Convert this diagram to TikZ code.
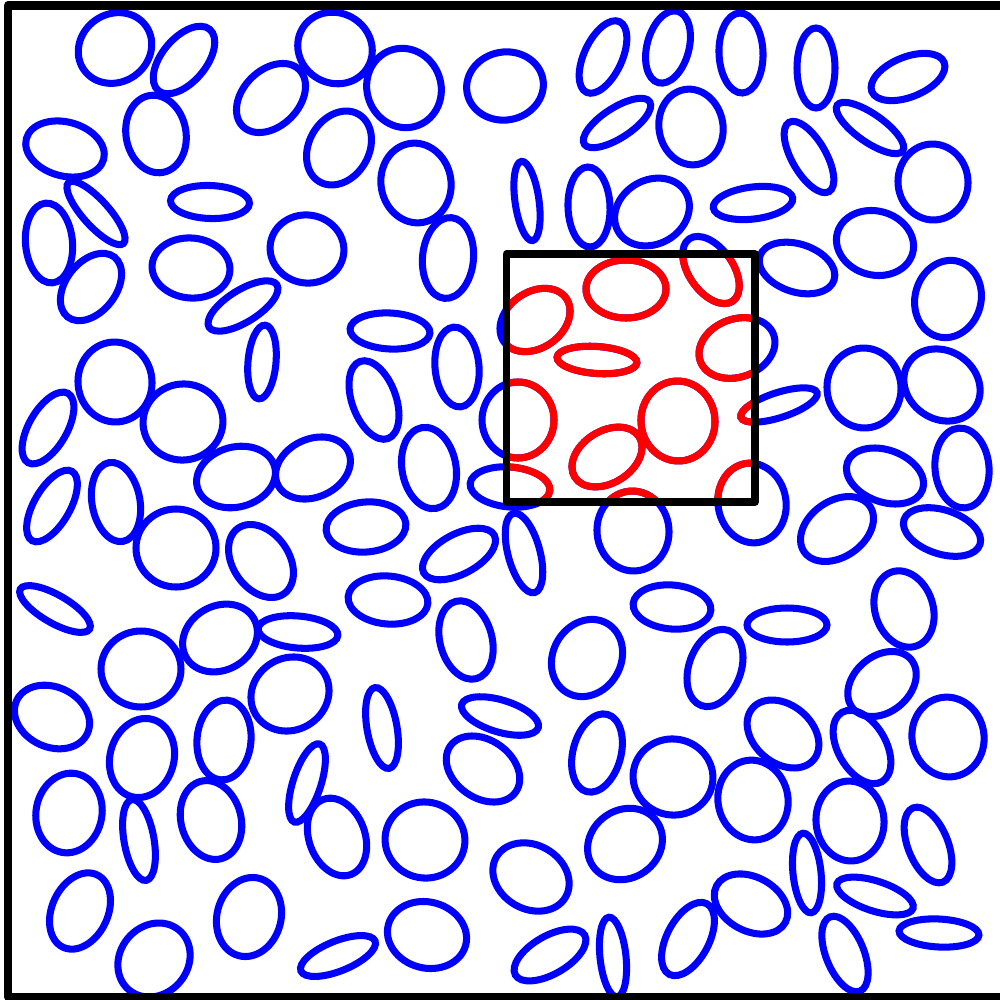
\documentclass[tikz,border=0pt]{standalone}
\usepackage{tikz}
\definecolor{eblue}{RGB}{0,0,255}
\definecolor{ered}{RGB}{255,0,0}
\newcommand\elp[5]{\draw[rotate around={#5:(#1,#2)}] (#1,#2) ellipse [x radius=#3, y radius=#4];}
\newcommand\allellipses{%
\elp{115}{48}{38}{34}{35}
\elp{184}{60}{40}{22}{50}
\elp{156}{134}{39}{30}{100}
\elp{65}{149}{40}{27}{-15}
\elp{96}{213}{41}{13}{-48}
\elp{49}{243}{40}{23.5}{95}
\elp{91}{287}{38}{25}{52}
\elp{210}{202}{39.5}{16.5}{-2}
\elp{191}{268}{39}{30}{-5}
\elp{307}{249}{37}{34}{-10}
\elp{243}{306}{40}{16}{32}
\elp{262}{362}{37}{14}{85}
\elp{271}{98}{40}{28}{45}
\elp{335}{48}{38}{35}{-30}
\elp{404}{88}{40}{37}{-70}
\elp{339}{148}{39}{30}{60}
\elp{416}{183}{40}{35}{100}
\elp{448}{258}{40.5}{25.5}{85}
\elp{505}{86}{38.5}{34}{10}
\elp{603}{57}{39}{19}{65}
\elp{617}{123}{39}{15}{33}
\elp{668}{47}{37}{21}{75}
\elp{691}{127}{38}{32}{100}
\elp{741}{53}{40}{22}{92}
\elp{816}{68}{40}{19}{90}
\elp{908}{77}{39}{20}{22}
\elp{870}{128}{40}{14}{-35}
\elp{809}{157}{40}{17}{-60}
\elp{933}{182}{38}{35}{95}
\elp{753}{203}{40}{16}{7}
\elp{875}{243}{39}{32}{-15}
\elp{948}{299}{39}{33}{75}
\elp{797}{268}{39}{24}{-18}
\elp{711}{270}{38}{22}{-55}
\elp{626}{289}{40}{29}{0}
\elp{535}{320}{38}{28}{35}
\elp{597}{360}{40}{13.5}{-4}
\elp{737}{348}{39}{29}{20}
\elp{518}{420}{38}{36}{90}
\elp{678}{421}{40}{37}{95}
\elp{607}{457}{38}{26}{32}
\elp{510}{487}{40}{20}{-5}
\elp{633}{531}{40}{36}{95}
\elp{752}{503}{40}{34}{100}
\elp{779}{405}{40}{12.5}{18}
\elp{864}{388}{40}{37}{95}
\elp{942}{385}{40}{34}{-35}
\elp{962}{468}{40}{27}{95}
\elp{885}{476}{40}{26}{-20}
\elp{837}{529}{40}{28}{35}
\elp{942}{532}{40}{22}{-18}
\elp{787}{625}{40}{17}{0}
\elp{904}{609}{39}{29}{-72}
\elp{672}{607}{39}{22}{-5}
\elp{715}{668}{40}{26}{70}
\elp{882}{684}{38}{28}{40}
\elp{948}{737}{40}{36}{100}
\elp{783}{734}{40}{29}{-40}
\elp{862}{747}{40}{24}{-60}
\elp{673}{777}{40}{38}{-10}
\elp{753}{800}{40}{35}{100}
\elp{850}{821}{40}{34}{95}
\elp{928}{845}{40}{20}{-68}
\elp{807}{873}{40}{14}{96}
\elp{875}{896}{40}{15}{-18}
\elp{939}{933}{40}{14}{-3}
\elp{751}{904}{39}{27}{-28}
\elp{688}{939}{40}{21}{62}
\elp{845}{954}{40}{19}{-68}
\elp{613}{957}{40}{13}{96}
\elp{550}{955}{40}{19}{30}
\elp{531}{877}{40}{32}{-30}
\elp{625}{844}{39}{34}{35}
\elp{597}{753}{40}{24}{75}
\elp{587}{658}{40}{34}{60}
\elp{483}{769}{40}{29}{-35}
\elp{500}{716}{40}{16}{-17}
\elp{382}{728}{41}{15}{100}
\elp{425}{840}{40}{38}{-10}
\elp{337}{837}{40}{28}{110}
\elp{307}{783}{41}{14}{72}
\elp{427}{935}{40}{33}{-15}
\elp{338}{956}{40}{15}{22}
\elp{249}{917}{40}{32}{75}
\elp{154}{960}{39}{34}{50}
\elp{80}{911}{40}{28}{65}
\elp{69}{813}{40}{33}{80}
\elp{139}{840}{41}{15}{100}
\elp{211}{820}{40}{30}{105}
\elp{142}{758}{40}{32}{75}
\elp{224}{740}{40}{27}{85}
\elp{52}{717}{39}{30}{-25}
\elp{141}{669}{40}{38}{0}
\elp{220}{638}{39}{32}{30}
\elp{298}{632}{40}{16}{-5}
\elp{290}{694}{40}{36}{30}
\elp{55}{609}{40}{14}{-30}
\elp{176}{548}{40}{39}{0}
\elp{261}{561}{40}{28}{-55}
\elp{116}{502}{40}{24}{100}
\elp{52}{506}{40}{18}{60}
\elp{48}{428}{40}{19}{60}
\elp{115}{382}{40}{37}{95}
\elp{183}{422}{40}{38}{10}
\elp{236}{477}{40}{30}{15}
\elp{313}{468}{39}{29}{25}
\elp{366}{527}{40}{25}{5}
\elp{388}{600}{40}{24}{-5}
\elp{466}{640}{40}{26}{105}
\elp{459}{554}{40}{20}{28}
\elp{524}{553}{41}{16}{105}
\elp{429}{468}{41}{27}{100}
\elp{374}{400}{41}{22}{110}
\elp{390}{331}{40}{18}{-3}
\elp{457}{367}{40}{22}{95}
\elp{527}{201}{40}{12}{98}
\elp{589}{207}{40}{21}{92}
\elp{652}{212}{39}{32}{30}
}
\begin{document}
\begin{tikzpicture}[x=0.01cm,y=-0.01cm]
\useasboundingbox (0,0) rectangle (1000,1000);
\clip (0,0) rectangle (1000,1000);
\fill[white] (0,0) rectangle (1000,1000);
\begin{scope}[line width=2pt,draw=eblue]
\allellipses
\end{scope}
\begin{scope}
\clip (506.5,254) rectangle (755,502);
\begin{scope}[line width=2pt,draw=ered]
\allellipses
\end{scope}
\end{scope}
\draw[line width=2.3pt,line join=round] (1020,5.5) -- (8,5.5) -- (8,997) -- (1020,997);
\draw[line width=2.15pt,line join=round] (506.5,254) rectangle (755,502);
\end{tikzpicture}
\end{document}
